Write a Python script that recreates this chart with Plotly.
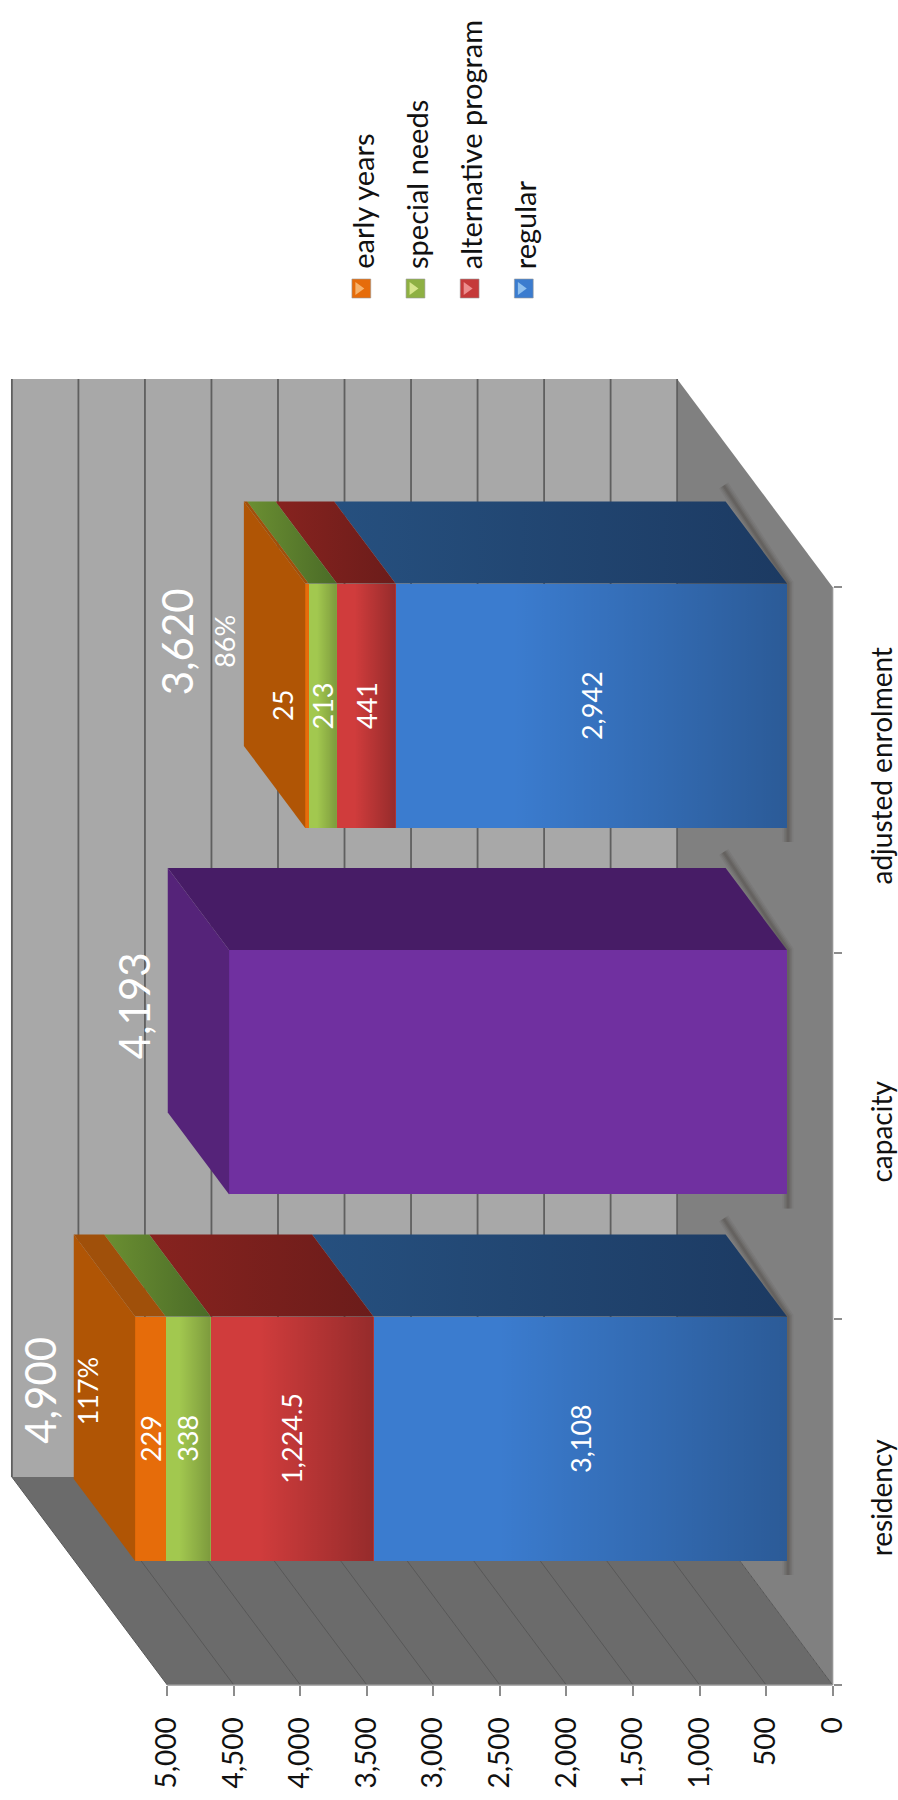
import plotly.graph_objects as go

# ---------- data ----------
categories = ["residency", "capacity", "adjusted enrolment"]
regular = [3108, None, 2942]
alternative_program = [1224.5, None, 441]
special_needs = [338, None, 213]
early_years = [229, None, 25]
capacity = [None, 4193, None]
totals = [4899.5, 4193, 3621]
total_labels = ["4,900", "4,193", "3,620"]
percent_labels = ["117%", None, "86%"]
value_ticks = [0, 500, 1000, 1500, 2000, 2500, 3000, 3500, 4000, 4500, 5000]
value_tick_labels = ["0", "500", "1,000", "1,500", "2,000", "2,500", "3,000", "3,500", "4,000", "4,500", "5,000"]

# ---------- styling / scale set-up ----------
W, H = 898, 1800
PX_PER_VALUE = 0.1344
PX_PER_CAT = 366.0
FONT = "Lato"
X0_PX, Y0_PX = 841.0, 1685.0            # axis origin on the page
BX0_PX, BY0_PX, BPC = 795.0, 1622.0, 366.5   # front plane of the bars


def dv(px):
    return px / PX_PER_VALUE


WALL_D, WALL_E = dv(157), 208 / PX_PER_CAT    # chart depth
BAR_D, BAR_E = dv(62), 82 / BPC               # bar depth
HALF = 1 / 3                                  # half bar thickness

series = [
    ("regular", regular, "#3b7ccf", "#26507f", "#1c3a62", 0.27),
    ("alternative program", alternative_program, "#d03c3c", "#87231f", "#6b1c1a", 0.28),
    ("special needs", special_needs, "#a2c84f", "#6b8f32", "#4a6b27", 0.23),
    ("early years", early_years, "#e66c0a", "#a0500a", "#a0500a", 0.0),
    ("capacity", capacity, "#7030a0", "#471c66", "#471c66", 0.0),
]
CAP_COLORS = {"early years": "#b05505", "capacity": "#552379"}

fig = go.Figure()


def poly(xs, ys, color, axes=("x", "y"), grad=None):
    kw = dict(fillgradient=grad) if grad else dict(fillcolor=color)
    fig.add_trace(go.Scatter(x=xs + xs[:1], y=ys + ys[:1], mode="none", fill="toself",
                             xaxis=axes[0], yaxis=axes[1], hoverinfo="skip", showlegend=False, **kw))


def line(xs, ys, color, width, axes=("x", "y")):
    fig.add_trace(go.Scatter(x=xs, y=ys, mode="lines", line=dict(color=color, width=width),
                             xaxis=axes[0], yaxis=axes[1], hoverinfo="skip", showlegend=False))


# ---------- room ----------
vmax, ncat = value_ticks[-1], len(categories)
poly([WALL_D, vmax + WALL_D, vmax + WALL_D, WALL_D],
     [WALL_E, WALL_E, ncat + WALL_E, ncat + WALL_E], "#a8a8a8")
poly([0, 0, WALL_D, WALL_D], [0, ncat, ncat + WALL_E, WALL_E], "#808080")
poly([0, vmax, vmax + WALL_D, WALL_D], [0, 0, WALL_E, WALL_E], "#6b6b6b")
for v in value_ticks:
    line([v + WALL_D, v + WALL_D], [WALL_E, ncat + WALL_E], "#5f5f5f", 1.8)
    line([v, v + WALL_D], [0, WALL_E], "#585858", 1.0)
line([0, vmax], [0, 0], "#949494", 1.5)
line([0, 0], [0, ncat], "#949494", 1.5)

# ---------- soft shadows beside each bar ----------
SHIFT_V = dv(X0_PX - BX0_PX)


def to_base_u(u):
    return (Y0_PX - (BY0_PX - BPC * u)) / PX_PER_CAT


for i in range(ncat):
    u = i + 0.5
    xs = [SHIFT_V + BAR_D + dv(2), SHIFT_V + dv(-1), SHIFT_V + dv(-1)]
    ys = [to_base_u(u + HALF + BAR_E) + 16 / PX_PER_CAT, to_base_u(u + HALF), to_base_u(u - HALF) - 14 / PX_PER_CAT]
    for width, alpha in ((11, 0.08), (8, 0.10), (5, 0.13), (2.5, 0.16)):
        line(xs, ys, f"rgba(60,55,50,{alpha})", width)

# ---------- bars (drawn on the overlay axes whose origin is the bars' front plane) ----------
cat_pos = [i + 0.5 for i in range(ncat)]
for name, vals, c, _, _, _ in series:
    fig.add_trace(go.Bar(y=cat_pos, x=vals, name=name, orientation="h", width=2 * HALF,
                         marker=dict(color=c, line=dict(width=0)), xaxis="x2", yaxis="y2",
                         showlegend=False, hovertemplate="%{x}<extra>" + name + "</extra>"))

labels = []
cum = [0.0] * ncat
AX2 = ("x2", "y2")
for name, vals, c, back1, back2, shade in series:
    for i, v in enumerate(vals):
        if not v:
            continue
        u = cat_pos[i]
        a, b = cum[i], cum[i] + v
        cum[i] = b
        top = u + HALF
        # face receding from the top edge of the bar
        grad = dict(type="horizontal", colorscale=[[0, back1], [1, back2]])
        poly([a, b, b + BAR_D, a + BAR_D], [top, top, top + BAR_E, top + BAR_E], back1, AX2, grad)
        # horizontal shading of the front
        if shade:
            sh = dict(type="horizontal",
                      colorscale=[[0, "rgba(0,0,0,0)"], [0.3, "rgba(0,0,0,0)"], [1, f"rgba(0,0,0,{shade})"]])
            poly([a, b, b, a], [u - HALF, u - HALF, top, top], "rgba(0,0,0,0)", AX2, sh)
        if name != "capacity":
            labels.append((name, i, (a + b) / 2, v))

# end caps
for name, vals, c, back1, back2, _ in series:
    cap = CAP_COLORS.get(name)
    if cap:
        for i, v in enumerate(vals):
            if not v:
                continue
            u = cat_pos[i]
            t = totals[i]
            poly([t, t, t + BAR_D, t + BAR_D],
                 [u - HALF, u + HALF, u + HALF + BAR_E, u - HALF + BAR_E], cap, AX2)

annotations = []


def note(text, x, y, size, weight=None):
    annotations.append(dict(text=text, x=x, y=y, xref="x2", yref="y2", showarrow=False, textangle=-90,
                            font=dict(family=FONT, size=size, color="white", weight=weight),
                            xanchor="center", yanchor="middle"))


# segment values; "25" is nudged onto the end cap as in the source
for name, i, mid, v in labels:
    text = f"{v:,.1f}" if v % 1 else f"{int(v):,}"
    x = mid
    if v == 25:
        x = mid + dv(24)
    note(text, x, cat_pos[i], 27)

TOTAL_OFFSET_PX = [96, 96, 130]
TOTAL_Y_NUDGE = [-48, -66, -64]
PCT_OFFSET_PX = [48, None, 81]
for i, lab in enumerate(total_labels):
    note(lab, totals[i] + dv(TOTAL_OFFSET_PX[i]), cat_pos[i] - TOTAL_Y_NUDGE[i] / BPC, 42)
    if percent_labels[i]:
        note(percent_labels[i], totals[i] + dv(PCT_OFFSET_PX[i]), cat_pos[i] - TOTAL_Y_NUDGE[i] / BPC, 27)

# ---------- legend drawn by hand because the whole chart is turned on its side ----------
legend_items = ["early years", "special needs", "alternative program", "regular"]
legend_colors = ["#e66c0a", "#8eb043", "#c53a3a", "#3b7ccf"]
legend_light = ["#f6b26b", "#d6e58c", "#ec8d8d", "#8fc0ee"]
shapes = []
for k, (txt, col, lt) in enumerate(zip(legend_items, legend_colors, legend_light)):
    cx = 365 + k * 54.7
    shapes.append(dict(type="rect", xref="paper", yref="paper", x0=(cx - 9.5) / W, x1=(cx + 9.5) / W,
                       y0=1 - 298 / H, y1=1 - 279 / H, fillcolor=col, line=dict(width=0.6, color="#999999")))
    path = "M {:.5f} {:.5f} L {:.5f} {:.5f} L {:.5f} {:.5f} Z".format(
        (cx - 6) / W, 1 - 282 / H, (cx + 3) / W, 1 - 288.5 / H, (cx - 6) / W, 1 - 295 / H)
    shapes.append(dict(type="path", xref="paper", yref="paper", path=path, fillcolor=lt, line=dict(width=0)))
    annotations.append(dict(text=txt, xref="paper", yref="paper", x=(cx + 1) / W, y=1 - 271 / H,
                            showarrow=False, textangle=-90, xanchor="center", yanchor="bottom",
                            font=dict(family=FONT, size=29, color="#111111")))

fig.update_layout(
    width=W, height=H, margin=dict(l=0, r=0, t=0, b=0), paper_bgcolor="white", plot_bgcolor="white",
    barmode="stack", showlegend=False, shapes=shapes, annotations=annotations,
    xaxis=dict(range=[X0_PX / PX_PER_VALUE, (X0_PX - W) / PX_PER_VALUE], anchor="free",
               position=(H - Y0_PX) / H, side="bottom", tickmode="array", tickvals=value_ticks,
               ticktext=value_tick_labels, tickangle=-90, ticks="outside", ticklen=10, tickwidth=1.5,
               tickcolor="#8c8c8c", tickfont=dict(family=FONT, size=28, color="#111111"),
               ticklabelstandoff=10, showgrid=False, zeroline=False, showline=False, fixedrange=True),
    yaxis=dict(range=[(Y0_PX - H) / PX_PER_CAT, Y0_PX / PX_PER_CAT], anchor="free",
               position=X0_PX / W, side="right", tickmode="array", tickvals=cat_pos, ticktext=categories,
               tickangle=-90, ticks="", tickfont=dict(family=FONT, size=28, color="#111111"),
               ticklabelstandoff=30, showgrid=False, zeroline=False, showline=False, fixedrange=True,
               minor=dict(tickmode="array", tickvals=list(range(ncat + 1)), ticks="outside", ticklen=8,
                          tickwidth=1.5, tickcolor="#8c8c8c", showgrid=False)),
    xaxis2=dict(range=[BX0_PX / PX_PER_VALUE, (BX0_PX - W) / PX_PER_VALUE], overlaying="x", visible=False,
                fixedrange=True),
    yaxis2=dict(range=[(BY0_PX - H) / BPC, BY0_PX / BPC], overlaying="y", visible=False, fixedrange=True),
)

fig.write_html("out.html", config=dict(displayModeBar=False),
               post_script="document.body.style.margin='0';")
